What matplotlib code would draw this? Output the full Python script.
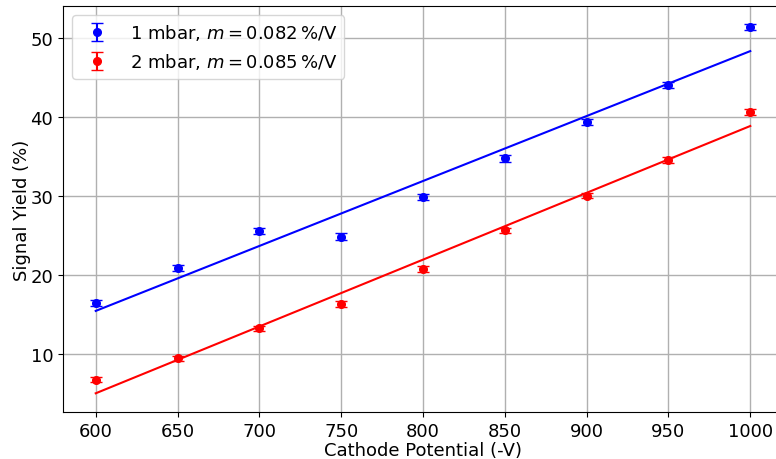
import numpy as np
import matplotlib.pyplot as plt

voltage = np.array([600, 650, 700, 750, 800, 850, 900, 950, 1000])
yield_1mbar = np.array([16.4, 20.8, 25.5, 24.8, 29.8, 34.7, 39.3, 44.0, 51.3])
yield_2mbar = np.array([6.7, 9.4, 13.2, 16.3, 20.7, 25.6, 30.0, 34.5, 40.6])
err_1mbar = np.array([0.4] * 9)
err_2mbar = np.array([0.35] * 9)

plt.rcParams['font.size'] = 13

fig = plt.figure(figsize=(7.76, 4.6), dpi=100)
ax = fig.add_axes([63 / 776, 47 / 460, 720 / 776, 406 / 460])

for y, e, c, lab in [(yield_1mbar, err_1mbar, 'blue', '1 mbar'),
                     (yield_2mbar, err_2mbar, 'red', '2 mbar')]:
    m, b = np.polyfit(voltage, y, 1)
    ax.errorbar(voltage, y, yerr=e, fmt='o', color=c, capsize=4, markersize=5.5,
                label=r'%s, $m = %.3f\,$%%/V' % (lab, m))
    ax.plot(voltage, m * voltage + b, color=c, lw=1.5)

ax.set_xlim(580, 1020)
ax.set_ylim(2.6, 54.0)
ax.set_xticks(np.arange(600, 1001, 50))
ax.set_yticks([10, 20, 30, 40, 50])
ax.grid(True, color='#b0b0b0', lw=1)
ax.set_axisbelow(True)
ax.set_xlabel('Cathode Potential (-V)', labelpad=1)
ax.set_ylabel('Signal Yield (%)', labelpad=0)
ax.legend(loc='upper left')

fig.savefig('out.png', dpi=100)
